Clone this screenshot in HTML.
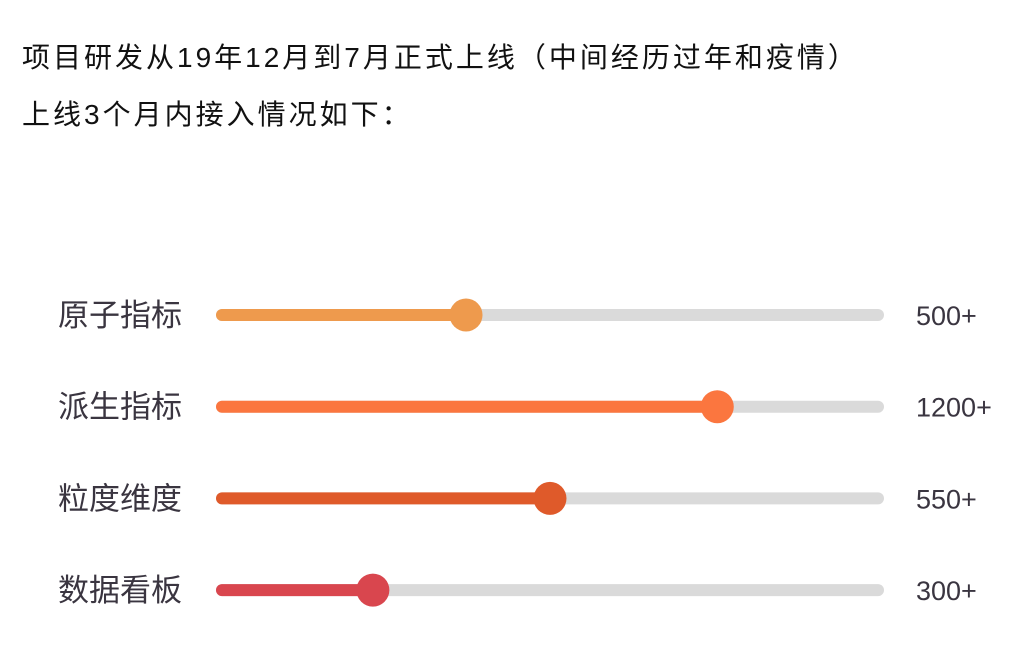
<!DOCTYPE html>
<html><head><meta charset="utf-8"><style>
body{margin:0;width:1024px;height:648px;background:#fff;overflow:hidden;font-family:"Liberation Sans","Noto Sans CJK SC",sans-serif;color:#111;}
.t{position:absolute;left:22px;font-size:28px;letter-spacing:3px;white-space:nowrap;}
</style></head><body>
<div class="t" style="top:36px">项目研发从19年12月到7月正式上线（中间经历过年和疫情）</div>
<div class="t" style="top:93px">上线3个月内接入情况如下：</div>
<svg id="c" width="1024" height="648" style="position:absolute;left:0;top:0"></svg>
<script>
const categories=["原子指标","派生指标","粒度维度","数据看板"];
const valueLabels=["500+","1200+","550+","300+"];
const progress=[37.2,75.5,50.0,23.0];
const colors=["#EE9A4D","#FB763F","#DF5A2A","#D9464E"];
const NS="http://www.w3.org/2000/svg";
const svg=document.getElementById('c');
const x0=222,x1=878,y0=315,dy=91.7;
const xs=p=>x0+(x1-x0)*p/100;
const ys=i=>y0+i*dy;
function mk(t,a){const e=document.createElementNS(NS,t);for(const k in a)e.setAttribute(k,a[k]);svg.appendChild(e);return e;}
categories.forEach((c,i)=>{
 const y=ys(i);
 let l=mk('text',{x:58,y:y+11,'font-size':31,fill:'#3a3540','font-family':'"Liberation Sans","Noto Sans CJK SC",sans-serif'});l.textContent=c;
 
 
 let tr=mk('line',{x1:x0,x2:x1,y1:y,y2:y,stroke:'#dadada','stroke-width':12,'stroke-linecap':'round'});
 
 
 let f=mk('line',{x1:x0,x2:xs(progress[i]),y1:y,y2:y,stroke:colors[i],'stroke-width':12,'stroke-linecap':'round'});
 
 
 let k=mk('circle',{cx:xs(progress[i]),cy:y,r:16.5,fill:colors[i]});
 
 
 let v=mk('text',{x:916,y:y+10,'font-size':27,fill:'#3a3540','font-family':'"Liberation Sans",sans-serif'});v.textContent=valueLabels[i];
 
 
});
</script>
</body></html>
